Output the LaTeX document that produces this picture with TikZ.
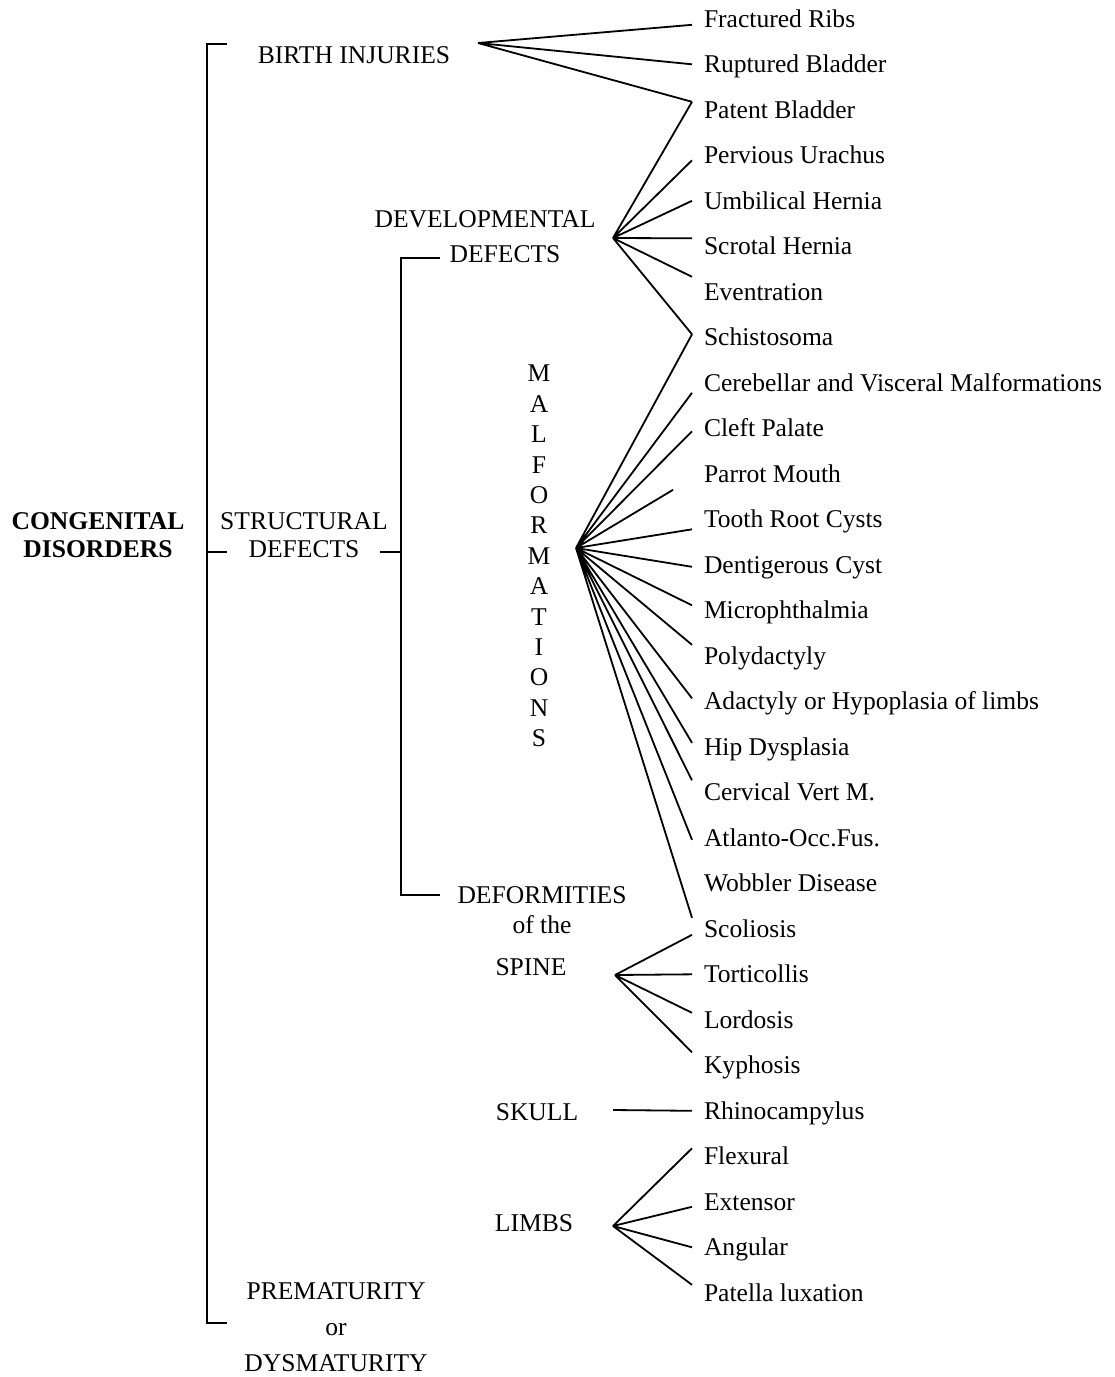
\documentclass[tikz,border=0pt]{standalone}
\usepackage{fontspec}
\setmainfont{Liberation Serif}
\usetikzlibrary{positioning, calc}
\tikzset{
every node/.style={font=\fontsize{18.4}{20}\selectfont, inner sep=0pt}, % all text in the same size
leaf/.style={anchor=base west, inner xsep=8pt, text height=11.8pt, text depth=0pt}, % the diseases on the right
head/.style={align=center}, % the group titles
bold/.style={font=\fontsize{18.4}{20.2}\selectfont\bfseries},
every path/.style={line width=1.3pt},
}
\begin{document}
\begin{tikzpicture}[x=0.72pt, y=-0.72pt]
      \useasboundingbox (0,0) rectangle (1115,1377);

      % groups
      \node[head, bold] (congen) at (98,535) {CONGENITAL\\DISORDERS};
      \node[head, font=\fontsize{18.4}{20.2}\selectfont] (struct) at (304,535) {STRUCTURAL\\DEFECTS};
      \node[anchor=base] (birth) at (354,63) {BIRTH INJURIES};
      \node[anchor=base] (devel) at (485,227) {DEVELOPMENTAL};
      \node[anchor=base] (devdef) at (505,262) {DEFECTS};
      \node[head, font=\fontsize{18.4}{21.9}\selectfont] (malf) at (539,556) {M\\A\\L\\F\\O\\R\\M\\A\\T\\I\\O\\N\\S};
      \node[head, font=\fontsize{18.4}{21.6}\selectfont] (defor) at (542,910) {DEFORMITIES\\of the};
      \node[anchor=base] (spine) at (531,975) {SPINE};
      \node[anchor=base] (skull) at (537,1120) {SKULL};
      \node[anchor=base] (limbs) at (534,1231) {LIMBS};
      \node[head, font=\fontsize{18.4}{26}\selectfont] (premat) at (336,1327) {PREMATURITY\\or\\DYSMATURITY};

      % diseases
      \node[leaf] (fract) at (692,27) {Fractured Ribs};
      \node[leaf] (rupt) at (692,72.5) {Ruptured Bladder};
      \node[leaf] (patent) at (692,118) {Patent Bladder};
      \node[leaf] (perv) at (692,163.5) {Pervious Urachus};
      \node[leaf] (umbil) at (692,209) {Umbilical Hernia};
      \node[leaf] (scrot) at (692,254.5) {Scrotal Hernia};
      \node[leaf] (event) at (692,300) {Eventration};
      \node[leaf] (schist) at (692,345.5) {Schistosoma};
      \node[leaf] (cereb) at (692,391) {Cerebellar and Visceral Malformations};
      \node[leaf] (cleft) at (692,436.5) {Cleft Palate};
      \node[leaf] (parrot) at (692,482) {Parrot Mouth};
      \node[leaf] (tooth) at (692,527.5) {Tooth Root Cysts};
      \node[leaf] (dent) at (692,573) {Dentigerous Cyst};
      \node[leaf] (micro) at (692,618.5) {Microphthalmia};
      \node[leaf] (polyd) at (692,664) {Polydactyly};
      \node[leaf] (adact) at (692,709.5) {Adactyly or Hypoplasia of limbs};
      \node[leaf] (hip) at (692,755) {Hip Dysplasia};
      \node[leaf] (cerv) at (692,800.5) {Cervical Vert M.};
      \node[leaf] (atlant) at (692,846) {Atlanto-Occ.Fus.};
      \node[leaf] (wobb) at (692,891.5) {Wobbler Disease};
      \node[leaf] (scol) at (692,937) {Scoliosis};
      \node[leaf] (tort) at (692,982.5) {Torticollis};
      \node[leaf] (lord) at (692,1028) {Lordosis};
      \node[leaf] (kyph) at (692,1073.5) {Kyphosis};
      \node[leaf] (rhino) at (692,1119) {Rhinocampylus};
      \node[leaf] (flex) at (692,1164.5) {Flexural};
      \node[leaf] (ext) at (692,1210) {Extensor};
      \node[leaf] (ang) at (692,1255.5) {Angular};
      \node[leaf] (pat) at (692,1301) {Patella luxation};

      % where the fans start
      \coordinate (birthhub) at (478,43);
      \coordinate (develhub) at (613,238);
      \coordinate (malfhub) at (576,548);
      \coordinate (spinehub) at (615,975);
      \coordinate (skullhub) at (613,1110);
      \coordinate (limbshub) at (613,1226);

      % brackets
      \coordinate (maintop) at (227,44);
      \coordinate (mainbot) at (227,1323);
      \coordinate (maintick) at (207,552);
      \coordinate (structtop) at (440,258);
      \coordinate (structbot) at (440,895);
      \coordinate (structtick) at (380,552);

      \draw (maintop) -- (207,44) -- (207,1323) -- (mainbot)
      (maintick) -- +(20,0)
      (structtop) -- (401,258) -- (401,895) -- (structbot)
      (structtick) -- +(21,0);

      \draw
      (birthhub) -- ($(fract.west)+(0,6)$)
      (birthhub) -- (rupt.west)
      (birthhub) -- ($(patent.west)+(0,-8)$)
      (develhub) -- ($(patent.west)+(0,-8)$)
      (develhub) -- ($(perv.west)+(0,5)$)
      (develhub) -- (umbil.west)
      (develhub) -- ($(scrot.west)+(0,-8)$)
      (develhub) -- ($(event.west)+(0,-15)$)
      (develhub) -- ($(schist.west)+(0,-3)$)
      (malfhub) -- ($(schist.west)+(0,-3)$)
      (malfhub) -- ($(cereb.west)+(0,10)$)
      (malfhub) -- ($(cleft.west)+(0,3)$)
      (malfhub) -- ($(parrot.west)+(-19,16)$)
      (malfhub) -- ($(tooth.west)+(0,10)$)
      (malfhub) -- ($(dent.west)+(0,2)$)
      (malfhub) -- ($(micro.west)+(0,-5)$)
      (malfhub) -- ($(polyd.west)+(0,-11)$)
      (malfhub) -- ($(adact.west)+(0,-3)$)
      (malfhub) -- ($(hip.west)+(0,-4)$)
      (malfhub) -- ($(cerv.west)+(0,-12)$)
      (malfhub) -- ($(atlant.west)+(0,2)$)
      (malfhub) -- ($(scol.west)+(0,-11)$)
      (spinehub) -- ($(scol.west)+(0,6)$)
      (spinehub) -- (tort.west)
      (spinehub) -- ($(lord.west)+(0,-7)$)
      (spinehub) -- ($(kyph.west)+(0,-13)$)
      (skullhub) -- (rhino.west)
      (limbshub) -- ($(flex.west)+(0,-8)$)
      (limbshub) -- ($(ext.west)+(0,5)$)
      (limbshub) -- (ang.west)
      (limbshub) -- ($(pat.west)+(0,-8)$)
      ;
    \end{tikzpicture}
\end{document}
